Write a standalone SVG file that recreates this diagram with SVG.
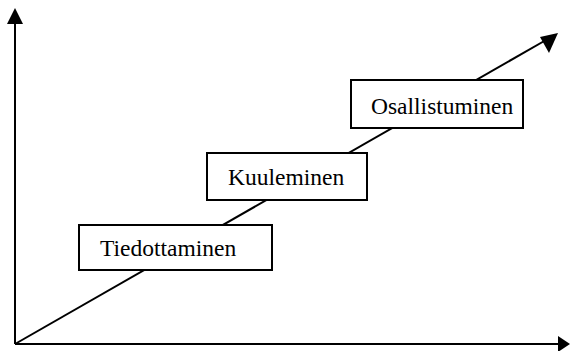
<svg xmlns="http://www.w3.org/2000/svg" width="570" height="351" viewBox="0 0 570 351">
<style>
.ax{stroke:#000;stroke-width:2;fill:none}
.box{fill:#fff;stroke:#000;stroke-width:2}
.lbl{font-family:"Liberation Serif","Times New Roman",serif;font-size:23.5px;fill:#000}
</style>
<rect width="570" height="351" fill="#fff"/>
<g id="connectors">
<line class="ax" x1="15" y1="344" x2="15" y2="22"/>
<polygon points="15,8 7,24 23,24" fill="#000"/>
<line class="ax" x1="15" y1="344" x2="560" y2="344"/>
<polygon points="570,344 558,336 558,352" fill="#000"/>
<line class="ax" x1="15" y1="344" x2="546" y2="40"/>
<polygon points="558,33 540,37 549,53" fill="#000"/>
</g>
<g id="osallistuminen">
<rect class="box" x="351" y="80" width="172" height="48"/>
<text class="lbl" x="371" y="114">Osallistuminen</text>
</g>
<g id="kuuleminen">
<rect class="box" x="207" y="153" width="160" height="47"/>
<text class="lbl" x="228" y="185">Kuuleminen</text>
</g>
<g id="tiedottaminen">
<rect class="box" x="79" y="225" width="193" height="45"/>
<text class="lbl" x="100" y="256">Tiedottaminen</text>
</g>
</svg>
